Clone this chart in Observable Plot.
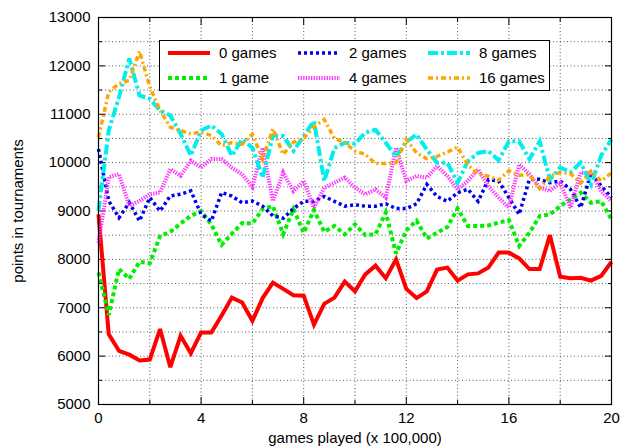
<!DOCTYPE html>
<html><head><meta charset="utf-8">
<script src="https://cdn.jsdelivr.net/npm/d3@7"></script>
<script src="https://cdn.jsdelivr.net/npm/@observablehq/plot@0.6"></script>
<style>body{margin:0;background:#fff}</style>
</head><body><div id="chart"></div>
<script>
const gamesPlayed = [0,0.4,0.8,1.2,1.6,2,2.4,2.8,3.2,3.6,4,4.4,4.8,5.2,5.6,6,6.4,6.8,7.2,7.6,8,8.4,8.8,9.2,9.6,10,10.4,10.8,11.2,11.6,12,12.4,12.8,13.2,13.6,14,14.4,14.8,15.2,15.6,16,16.4,16.8,17.2,17.6,18,18.4,18.8,19.2,19.6,20];
const games0 = [8930,6450,6110,6030,5910,5930,6560,5770,6420,6060,6490,6490,6840,7210,7110,6730,7200,7520,7390,7260,7250,6650,7080,7210,7540,7340,7690,7870,7610,8000,7390,7200,7340,7790,7830,7560,7690,7710,7830,8140,8140,8020,7800,7800,8500,7640,7610,7620,7560,7660,7950];
const games1 = [7730,6850,7800,7600,7950,7920,8480,8570,8740,8900,9000,8720,8300,8530,8750,8740,9040,9100,8520,9040,8550,9020,8570,8690,8520,8725,8500,8520,8970,8120,8600,8800,8430,8550,8670,9050,8690,8690,8700,8760,8810,8277,8550,8897,8930,9100,9240,9380,9170,9200,8826];
const games2 = [10282,9208,8862,9174,8793,9278,9000,9312,9347,9416,8931,8793,9381,9310,9170,9206,9100,8900,8850,9050,9200,9200,9300,9200,9100,9130,9100,9100,9150,9050,9050,9150,9550,9300,9200,9380,9450,9200,9650,9620,9275,8930,9655,9655,9585,9620,9447,9068,9793,9516,9275];
const games4 = [8342,9700,9763,9104,9208,9347,9381,9866,9728,10040,9900,10075,10075,9896,9758,9496,10310,9206,9793,9413,9620,9068,9482,9585,9690,9482,9344,9447,9275,10310,9620,9724,9690,9930,9724,9447,9620,9862,9516,9275,9068,9965,9758,9482,9413,9585,9068,9793,9793,9413,9206];
const games8 = [9000,10664,11357,12150,11390,11320,11080,10975,10594,10144,10664,10767,10594,10140,10483,10310,9690,10560,10550,10240,10550,10860,9620,10300,10410,10390,10620,10680,10410,10120,10430,10580,10270,10000,10000,9585,10030,10200,10240,10050,10440,10440,10070,10440,9650,9900,9800,10000,9550,10150,10480];
const games16 = [10525,11460,11634,11700,12300,11565,11080,10733,10664,10594,10630,10560,10350,10413,10380,10586,10068,10700,10170,10420,10500,10740,10890,10500,10410,10240,10170,9980,9980,10000,10480,10200,10080,10130,10220,10320,9950,9760,9720,9640,9830,9740,9750,9460,9720,9800,9770,9580,9820,9620,9790];
const seriesNames = ["0 games","1 game","2 games","4 games","8 games","16 games"];
const seriesValues = [games0, games1, games2, games4, games8, games16];
const xTickLabels = [0,4,8,12,16,20];
const xGrid = [2,4,6,8,10,12,14,16,18];
const xMinor = [2,6,10,14,18];
const yTickLabels = [5000,6000,7000,8000,9000,10000,11000,12000,13000];
const yMinor = [5500,6500,7500,8500,9500,10500,11500,12500];
const yGrid = [5500,6000,6500,7000,7500,8000,8500,9000,9500,10000,10500,11000,11500,12000,12500];

const styles = [
  {stroke:"#ff0000", strokeWidth:4, dash:null},
  {stroke:"#00ee00", strokeWidth:4, dash:"4,3"},
  {stroke:"#0000ee", strokeWidth:3.5, dash:"3,3"},
  {stroke:"#ff33ff", strokeWidth:4, dash:"1.3,1.3"},
  {stroke:"#00eeee", strokeWidth:4, dash:"10,3,3,3"},
  {stroke:"#ffa500", strokeWidth:3.5, dash:"5,3,2,3"}
];

const data = seriesNames.map((name, s) => gamesPlayed.map((x, i) => ({series: name, x, y: seriesValues[s][i]})));

const gridStyle = {stroke:"#333", strokeOpacity:0.9, strokeWidth:0.9, strokeDasharray:"1,2.5"};
const font = "'Liberation Sans', Arial, Helvetica, sans-serif";

const chart = Plot.plot({
  width: 631, height: 448,
  marginLeft: 98, marginRight: 20, marginTop: 17, marginBottom: 44,
  style: {fontFamily: font, fontSize: "15px", color: "#000", background: "#fff", overflow: "visible"},
  x: {domain: [0, 20]},
  y: {domain: [5000, 13000]},
  marks: [
    Plot.gridX(xGrid, gridStyle),
    Plot.gridY(yGrid, gridStyle),
    Plot.axisX(xTickLabels, {anchor:"bottom", tickSize:0, tickPadding:8, label:null, fontSize:15}),
    Plot.axisY(yTickLabels, {anchor:"left", tickSize:0, tickPadding:8, label:null, fontSize:15, tickFormat: d => String(d)}),
    Plot.axisX(xTickLabels, {anchor:"bottom", tickSize:7, dy:-7, tickFormat: () => "", label:null}),
    Plot.axisX(xTickLabels, {anchor:"top", tickSize:7, dy:7, tickFormat: () => "", label:null}),
    Plot.axisX(xMinor, {anchor:"bottom", tickSize:4, dy:-4, tickFormat: () => "", label:null}),
    Plot.axisX(xMinor, {anchor:"top", tickSize:4, dy:4, tickFormat: () => "", label:null}),
    Plot.axisY(yTickLabels, {anchor:"left", tickSize:7, dx:7, tickFormat: () => "", label:null}),
    Plot.axisY(yTickLabels, {anchor:"right", tickSize:7, dx:-7, tickFormat: () => "", label:null}),
    Plot.axisY(yMinor, {anchor:"left", tickSize:4, dx:4, tickFormat: () => "", label:null}),
    Plot.axisY(yMinor, {anchor:"right", tickSize:4, dx:-4, tickFormat: () => "", label:null}),
    ...data.map((d, s) => Plot.line(d, {x:"x", y:"y", stroke: styles[s].stroke, strokeWidth: styles[s].strokeWidth, strokeDasharray: styles[s].dash, strokeLinejoin:"miter", strokeLinecap:"butt", strokeMiterlimit: 3})),
    Plot.frame({stroke:"#000", strokeWidth:1.2}),
    Plot.text(["games played (x 100,000)"], {frameAnchor:"bottom", dy:34, textAnchor:"middle", lineAnchor:"middle", fontSize:15}),
    Plot.text(["points in tournaments"], {frameAnchor:"left", dx:-80, rotate:-90, textAnchor:"middle", lineAnchor:"middle", fontSize:15})
  ]
});

// legend inside the plot area (gnuplot style box)
const svg = d3.select(chart);
const lg = svg.append("g").attr("font-family", font).attr("font-size", 15).attr("text-anchor", "start");
lg.append("rect").attr("x", 159.5).attr("y", 40.5).attr("width", 390).attr("height", 50)
  .attr("fill", "#fff").attr("stroke", "#000").attr("stroke-width", 1);
seriesNames.forEach((name, i) => {
  const col = Math.floor(i / 2), row = i % 2;
  const y = 53 + row * 25;
  const x0 = 168 + col * 130;
  lg.append("line").attr("x1", x0).attr("x2", x0 + 42).attr("y1", y).attr("y2", y)
    .attr("stroke", styles[i].stroke).attr("stroke-width", styles[i].strokeWidth)
    .attr("stroke-dasharray", styles[i].dash).attr("stroke-linecap", "butt");
  lg.append("text").attr("x", 219 + col * 130).attr("y", y).attr("dy", "0.35em")
    .attr("text-anchor", "start").attr("fill", "#000").text(name);
});

document.getElementById("chart").appendChild(chart);
</script>
</body></html>
